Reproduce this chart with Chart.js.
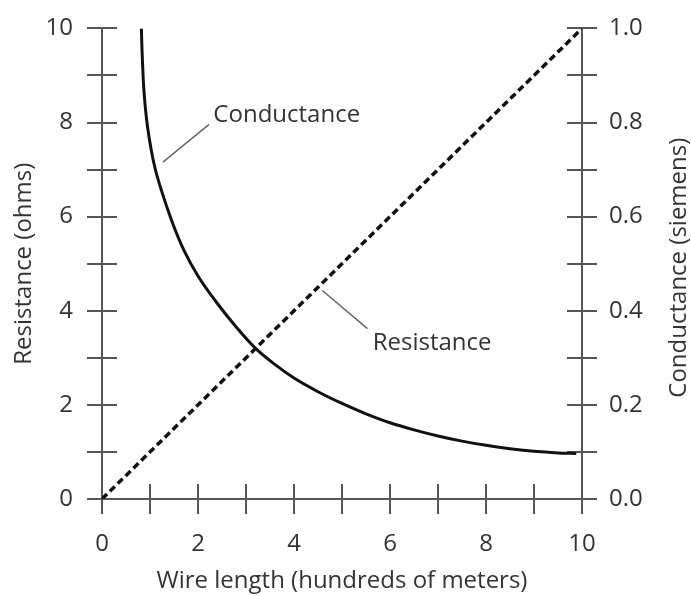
<!DOCTYPE html>
<html>
<head>
<meta charset="utf-8">
<script src="https://cdn.jsdelivr.net/npm/chart.js@4/dist/chart.umd.min.js"></script>
<style>
  html, body { margin: 0; padding: 0; background: #fff; }
  canvas { display: block; }
</style>
</head>
<body>
<canvas id="grafico" width="691" height="596"></canvas>
<script>
// dados
const resistanceLength = [0, 10];           // centenas de metros
const resistanceOhms = [0, 10];
const conductanceLength = [0.82, 0.835, 0.86, 0.90, 0.95, 1.02, 1.10, 1.25, 1.45, 1.70, 2.00, 2.40, 2.80, 3.20, 3.60, 4.00, 4.50, 5.00, 5.50, 6.00, 6.50, 7.00, 7.50, 8.00, 8.50, 9.00, 9.50, 9.88];
const conductanceSiemens = [1.0, 0.95, 0.89, 0.835, 0.79, 0.745, 0.705, 0.652, 0.592, 0.53, 0.474, 0.416, 0.365, 0.32, 0.286, 0.257, 0.228, 0.203, 0.181, 0.162, 0.147, 0.134, 0.123, 0.114, 0.107, 0.1015, 0.098, 0.0965];

const xLabels = [0, 2, 4, 6, 8, 10];
const leftLabels = [0, 2, 4, 6, 8, 10];
const rightLabels = [0.0, 0.2, 0.4, 0.6, 0.8, 1.0];

const FONT = "'Open Sans', 'DejaVu Sans', sans-serif";
const FSIZE = 24;
const AXIS = '#555';
const TEXT = '#333';

// notas com linha de chamada (em unidades de dados do eixo esquerdo)
const notas = [
  { text: 'Conductance', from: [1.27, 7.16], to: [2.23, 7.96], at: [2.32, 8.16] },
  { text: 'Resistance', from: [4.59, 4.43], to: [5.53, 3.62], at: [5.64, 3.32] }
];

const toPts = (xs, ys) => xs.map((x, i) => ({ x: x, y: ys[i] }));
const temLabel = (lista, v) => lista.some(l => Math.abs(l - v) < 1e-6);

// meia-marca interior dos ticks (as exteriores são do Chart.js)
const marcasInternas = {
  id: 'marcasInternas',
  beforeDatasetsDraw(chart) {
    const { ctx, chartArea: a, scales } = chart;
    const L = 15;
    ctx.save();
    ctx.strokeStyle = AXIS;
    ctx.lineWidth = 2;
    ctx.beginPath();
    scales.x.ticks.forEach(t => {
      const p = Math.round(scales.x.getPixelForValue(t.value));
      ctx.moveTo(p, a.bottom); ctx.lineTo(p, a.bottom - L);
    });
    scales.y.ticks.forEach(t => {
      const p = Math.round(scales.y.getPixelForValue(t.value));
      ctx.moveTo(a.left, p); ctx.lineTo(a.left + L, p);
    });
    scales.y1.ticks.forEach(t => {
      const p = Math.round(scales.y1.getPixelForValue(t.value));
      ctx.moveTo(a.right, p); ctx.lineTo(a.right - L, p);
    });
    ctx.stroke();
    ctx.restore();
  }
};

// notas + título do eixo direito (lido de baixo para cima, como o esquerdo)
const notasPlugin = {
  id: 'notas',
  afterDatasetsDraw(chart) {
    const { ctx, scales, chartArea: a } = chart;
    const px = v => scales.x.getPixelForValue(v);
    const py = v => scales.y.getPixelForValue(v);
    ctx.save();
    ctx.strokeStyle = '#666';
    ctx.lineWidth = 1.5;
    ctx.fillStyle = TEXT;
    ctx.font = FSIZE + 'px ' + FONT;
    ctx.textBaseline = 'middle';
    ctx.textAlign = 'left';
    notas.forEach(n => {
      ctx.beginPath();
      ctx.moveTo(px(n.from[0]), py(n.from[1]));
      ctx.lineTo(px(n.to[0]), py(n.to[1]));
      ctx.stroke();
      ctx.fillText(n.text, px(n.at[0]), py(n.at[1]));
    });
    ctx.translate(chart.width - 12, (a.top + a.bottom) / 2 + 4);
    ctx.rotate(-Math.PI / 2);
    ctx.textAlign = 'center';
    ctx.fillText('Conductance (siemens)', 0, 0);
    ctx.restore();
  }
};

const eixoBase = {
  border: { display: true, color: AXIS, width: 2 },
  grid: { display: true, drawOnChartArea: false, drawTicks: true, tickLength: 15, color: AXIS, lineWidth: 2 }
};

new Chart(document.getElementById('grafico'), {
  type: 'line',
  data: {
    datasets: [
      {
        label: 'Resistance',
        data: toPts(resistanceLength, resistanceOhms),
        yAxisID: 'y',
        borderColor: '#111',
        borderWidth: 3.5,
        borderDash: [7, 4],
        pointRadius: 0,
        fill: false
      },
      {
        label: 'Conductance',
        data: toPts(conductanceLength, conductanceSiemens),
        yAxisID: 'y1',
        borderColor: '#111',
        borderWidth: 3,
        cubicInterpolationMode: 'monotone',
        pointRadius: 0,
        fill: false
      }
    ]
  },
  options: {
    responsive: false,
    animation: false,
    layout: { padding: { top: 21, left: 0, right: 0, bottom: 0 } },
    plugins: { legend: { display: false }, tooltip: { enabled: false } },
    scales: {
      x: {
        ...eixoBase,
        type: 'linear',
        min: 0, max: 10,
        ticks: {
          stepSize: 1, padding: 16, maxRotation: 0, autoSkip: false,
          color: TEXT, font: { family: FONT, size: FSIZE },
          callback: v => temLabel(xLabels, v) ? String(v) : ''
        },
        title: { display: true, text: 'Wire length (hundreds of meters)', color: TEXT, font: { family: FONT, size: FSIZE }, padding: { top: 0, bottom: 0 } },
        afterFit: s => { s.height = 97; }
      },
      y: {
        ...eixoBase,
        position: 'left',
        min: 0, max: 10,
        ticks: {
          stepSize: 1, padding: 14, autoSkip: false,
          color: TEXT, font: { family: FONT, size: FSIZE },
          callback: v => temLabel(leftLabels, v) ? String(v) : ''
        },
        title: { display: true, text: 'Resistance (ohms)', color: TEXT, font: { family: FONT, size: FSIZE }, padding: { top: 10, bottom: 0 } },
        afterFit: s => { s.width = 102; }
      },
      y1: {
        ...eixoBase,
        position: 'right',
        min: 0, max: 1,
        ticks: {
          stepSize: 0.1, padding: 12, autoSkip: false,
          color: TEXT, font: { family: FONT, size: FSIZE },
          callback: v => temLabel(rightLabels, v) ? v.toFixed(1) : ''
        },
        title: { display: false },
        afterFit: s => { s.width = 109; }
      }
    }
  },
  plugins: [marcasInternas, notasPlugin]
});
</script>
</body>
</html>
